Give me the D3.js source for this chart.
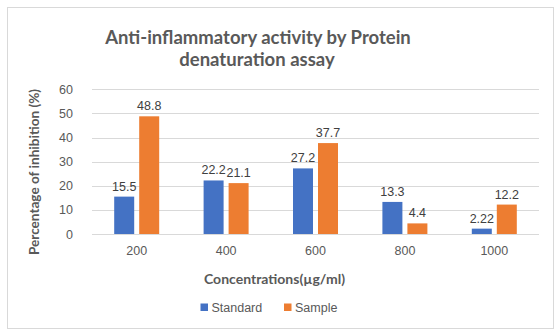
<!DOCTYPE html>
<html>
<head>
<meta charset="utf-8">
<script src="https://cdn.jsdelivr.net/npm/d3@7"></script>
<style>
  html, body { margin: 0; padding: 0; background: #ffffff; }
  svg { display: block; }
</style>
</head>
<body>
<svg id="chart" width="560" height="335"></svg>
<script>
// Protein denaturation assay: % inhibition at each concentration
const concentrations = ["200", "400", "600", "800", "1000"];
const standardValues = [15.5, 22.2, 27.2, 13.3, 2.22];
const sampleValues = [48.8, 21.1, 37.7, 4.4, 12.2];
const seriesNames = ["Standard", "Sample"];
const yTicks = [0, 10, 20, 30, 40, 50, 60];

const colors = { Standard: "#4472C4", Sample: "#ED7D31" };
const textColor = "#595959";
const labelFont = "'Liberation Sans', Arial, sans-serif";
const titleFont = "Lato, 'Open Sans', sans-serif";

const svg = d3.select("#chart");

// outer frame
svg.append("rect")
  .attr("x", 7.5).attr("y", 7.5)
  .attr("width", 546).attr("height", 321)
  .attr("fill", "#ffffff")
  .attr("stroke", "#D9D9D9")
  .attr("stroke-width", 1);

const plot = { left: 92, right: 539, top: 89.3, bottom: 234 };

const x = d3.scaleBand()
  .domain(concentrations)
  .range([plot.left, plot.right])
  .paddingInner(0).paddingOuter(0);

const y = d3.scaleLinear()
  .domain([0, 60])
  .range([plot.bottom, plot.top]);

const barW = 20, barGap = 5;

// horizontal gridlines
svg.append("g")
  .selectAll("line")
  .data(yTicks)
  .join("line")
  .attr("x1", plot.left).attr("x2", plot.right)
  .attr("y1", d => Math.round(y(d)) + 0.5)
  .attr("y2", d => Math.round(y(d)) + 0.5)
  .attr("stroke", "#D9D9D9")
  .attr("stroke-width", 1);

// y axis labels
const yAxis = d3.axisLeft(y).tickValues(yTicks).tickSize(0).tickPadding(0);
const yg = svg.append("g")
  .attr("transform", `translate(${plot.left - 19},0)`)
  .call(yAxis);
yg.select(".domain").remove();
yg.selectAll("text")
  .attr("fill", textColor)
  .attr("font-family", labelFont)
  .attr("font-size", "12.5px");

// x axis labels
const xAxis = d3.axisBottom(x).tickSize(0).tickPadding(0);
const xg = svg.append("g")
  .attr("transform", `translate(0,${plot.bottom + 12})`)
  .call(xAxis);
xg.select(".domain").remove();
xg.selectAll("text")
  .attr("fill", textColor)
  .attr("font-family", labelFont)
  .attr("font-size", "12.5px");

// bars
const rows = concentrations.map((c, i) => ({
  c,
  values: [
    { name: "Standard", v: standardValues[i] },
    { name: "Sample", v: sampleValues[i] }
  ]
}));

const groups = svg.append("g")
  .selectAll("g")
  .data(rows)
  .join("g")
  .attr("transform", d => `translate(${x(d.c) + x.bandwidth() / 2},0)`);

const offset = (name) => name === "Standard" ? -(barW + barGap / 2) : barGap / 2;

groups.selectAll("rect")
  .data(d => d.values)
  .join("rect")
  .attr("x", d => offset(d.name))
  .attr("y", d => y(d.v))
  .attr("width", barW)
  .attr("height", d => y(0) - y(d.v))
  .attr("fill", d => colors[d.name]);

// value labels
groups.selectAll("text")
  .data(d => d.values)
  .join("text")
  .attr("x", d => offset(d.name) + barW / 2)
  .attr("y", d => y(d.v) - 6)
  .attr("text-anchor", "middle")
  .attr("fill", "#404040")
  .attr("font-family", labelFont)
  .attr("font-size", "12.5px")
  .text(d => d.v);

// title
const title = svg.append("text")
  .attr("text-anchor", "middle")
  .attr("fill", textColor)
  .attr("font-family", titleFont)
  .attr("font-weight", "bold")
  .attr("font-size", "18.5px");
title.append("tspan").attr("x", 258).attr("y", 44).text("Anti-inflammatory activity by Protein");
title.append("tspan").attr("x", 257).attr("y", 66).text("denaturation assay");

// axis titles
svg.append("text")
  .attr("transform", "translate(39,172) rotate(-90)")
  .attr("text-anchor", "middle")
  .attr("fill", textColor)
  .attr("font-family", titleFont)
  .attr("font-weight", "bold")
  .attr("font-size", "13.6px")
  .text("Percentage of inhibition (%)");

svg.append("text")
  .attr("x", 274.5).attr("y", 284)
  .attr("text-anchor", "middle")
  .attr("fill", textColor)
  .attr("font-family", titleFont)
  .attr("font-weight", "bold")
  .attr("font-size", "14px")
  .text("Concentrations(µg/ml)");

// legend
const legendX = [200.5, 284];
const legend = svg.append("g")
  .selectAll("g")
  .data(seriesNames)
  .join("g")
  .attr("transform", (d, i) => `translate(${legendX[i]},303.5)`);
legend.append("rect")
  .attr("width", 7.5).attr("height", 7.5)
  .attr("fill", d => colors[d]);
legend.append("text")
  .attr("x", 11).attr("y", 8)
  .attr("fill", textColor)
  .attr("font-family", labelFont)
  .attr("font-size", "12.5px")
  .text(d => d);
</script>
</body>
</html>
